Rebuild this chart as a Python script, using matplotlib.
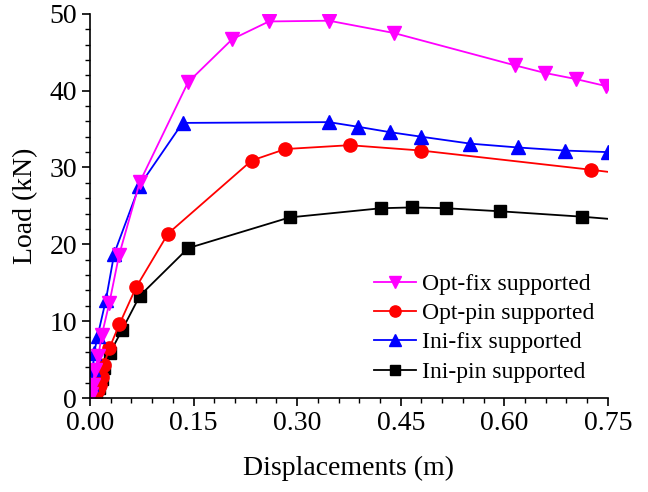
import numpy as np
import matplotlib
matplotlib.use('Agg')
import matplotlib.pyplot as plt
from matplotlib.ticker import MultipleLocator

plt.rcParams['font.family'] = ['Liberation Serif', 'DejaVu Serif']

# Opt-fix supported
optfix_x = [0, 0.002, 0.004, 0.007, 0.012, 0.017, 0.028, 0.042, 0.072, 0.142,
            0.206, 0.259, 0.346, 0.44, 0.615, 0.659, 0.704, 0.747]
optfix_y = [0, 0.5, 1.7, 3.6, 5.5, 8.2, 12.4, 18.6, 28.1, 41.1,
            46.7, 49.0, 49.1, 47.5, 43.3, 42.3, 41.5, 40.6]

# Opt-pin supported
optpin_x = [0, 0.007, 0.012, 0.0145, 0.017, 0.020, 0.028, 0.0425, 0.0666, 0.113,
            0.234, 0.283, 0.376, 0.480, 0.726, 0.753]
optpin_y = [0, 0.3, 1.0, 1.7, 2.8, 4.3, 6.5, 9.6, 14.4, 21.4,
            30.9, 32.4, 32.9, 32.2, 29.7, 29.4]

# Ini-fix supported
inifix_x = [0, 0.002, 0.004, 0.006, 0.011, 0.023, 0.035, 0.0714, 0.134,
            0.346, 0.388, 0.434, 0.480, 0.551, 0.620, 0.688, 0.750]
inifix_y = [0, 1.8, 3.8, 5.9, 8.1, 12.8, 18.8, 27.6, 35.8,
            35.9, 35.3, 34.6, 34.0, 33.1, 32.6, 32.2, 32.0]

# Ini-pin supported
inipin_x = [0, 0.008, 0.013, 0.017, 0.020, 0.029, 0.046, 0.072, 0.142, 0.289,
            0.422, 0.466, 0.515, 0.594, 0.712, 0.753]
inipin_y = [0, 0.4, 1.3, 2.5, 3.9, 5.9, 8.8, 13.3, 19.5, 23.5,
            24.7, 24.8, 24.7, 24.3, 23.6, 23.3]

fig = plt.figure(figsize=(6.48, 4.92), dpi=100)
ax = fig.add_axes([0.139, 0.191, 0.799, 0.781])

lw = 1.3
l4, = ax.plot(inipin_x, inipin_y, '-s', color='black', lw=lw, ms=8,
              markevery=slice(0, len(inipin_x) - 1), label='Ini-pin supported')
l2, = ax.plot(optpin_x, optpin_y, '-o', color='#ff0000', lw=lw, ms=9.5,
              markevery=slice(0, len(optpin_x) - 1), label='Opt-pin supported')
l3, = ax.plot(inifix_x, inifix_y, '-^', color='#0000ff', lw=lw, ms=9.5,
              label='Ini-fix supported')
l1, = ax.plot(optfix_x, optfix_y, '-v', color='#ff00ff', lw=lw, ms=9.5,
              label='Opt-fix supported')

ax.set_xlim(0, 0.75)
ax.set_ylim(0, 50)
ax.xaxis.set_major_locator(MultipleLocator(0.15))
ax.xaxis.set_minor_locator(MultipleLocator(0.03))
ax.yaxis.set_major_locator(MultipleLocator(10))
ax.yaxis.set_minor_locator(MultipleLocator(2))
ax.xaxis.set_major_formatter(plt.FormatStrFormatter('%.2f'))

for s in ['top', 'right']:
    ax.spines[s].set_visible(False)
for s in ['left', 'bottom']:
    ax.spines[s].set_linewidth(1.2)
ax.tick_params(which='major', direction='out', length=6, width=1.2, labelsize=20)
ax.tick_params(which='minor', direction='out', length=3.5, width=1.0)

ax.set_xlabel('Displacements (m)', fontsize=20, labelpad=14)
ax.set_ylabel('Load (kN)', fontsize=20, labelpad=8)

ax.legend(handles=[l1, l2, l3, l4], loc='lower left', frameon=False,
          fontsize=17, handlelength=1.8, handletextpad=0.25, labelspacing=0.33,
          borderpad=0, borderaxespad=0, markerscale=0.85,
          bbox_to_anchor=(0.577, 0.222), bbox_transform=fig.transFigure)

fig.savefig('out.png', dpi=100)
